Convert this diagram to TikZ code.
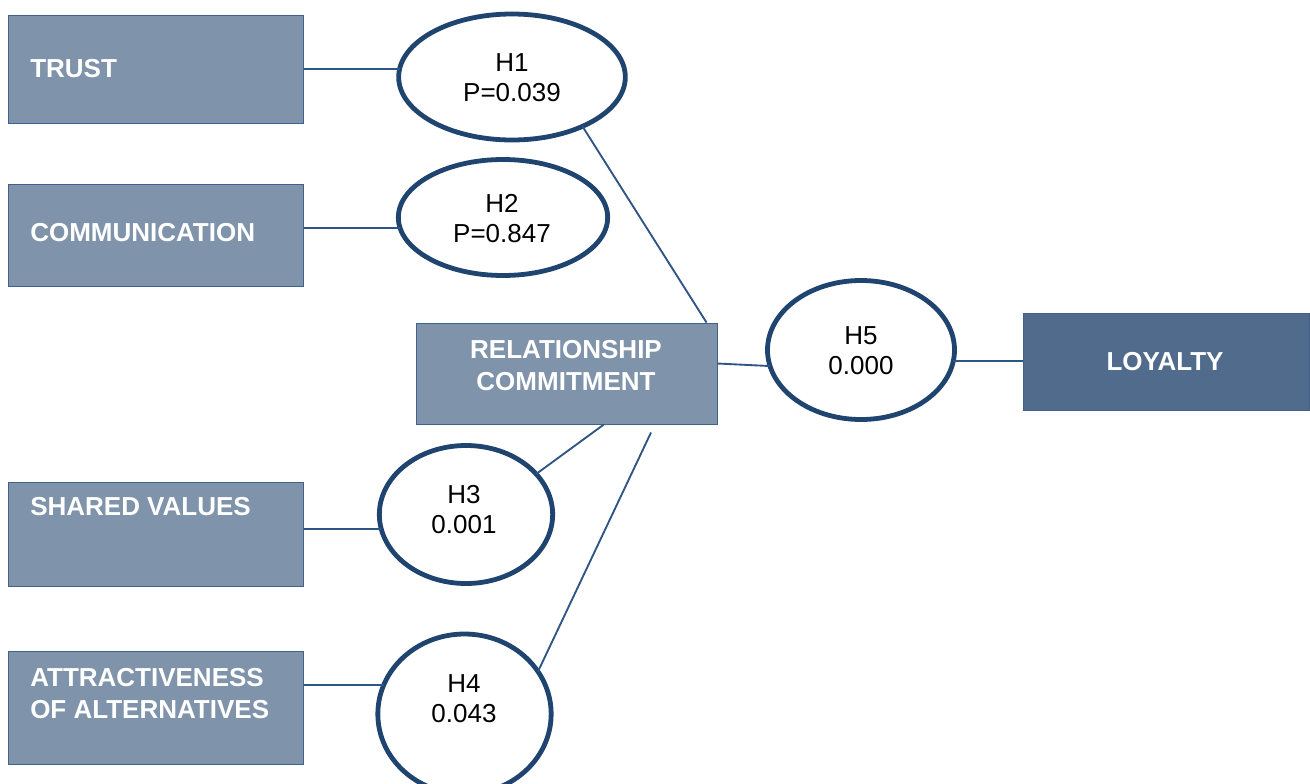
\documentclass[tikz,border=0pt]{standalone}
\usepackage{fontspec}
\setmainfont{Liberation Sans}
\usetikzlibrary{shapes.geometric}
\definecolor{boxfill}{HTML}{7F93AB}
\definecolor{boxdark}{HTML}{506B8B}
\definecolor{boxline}{HTML}{41618A}
\definecolor{ellline}{HTML}{1F4470}
\definecolor{conn}{HTML}{2E5584}
\tikzset{
  box/.style={draw=boxline, line width=0.75pt, fill=boxfill, minimum width=221.25pt, inner sep=0pt},
  boxtext/.style={text=white, font=\bfseries\fontsize{19.5}{24}\selectfont, inner sep=0pt, align=left},
  hyp/.style={ellipse, draw=ellline, line width=3.6pt, fill=white, inner sep=0pt, outer sep=0pt},
  hyptext/.style={font=\fontsize{19.5}{22.5}\selectfont, inner sep=0pt, align=center},
  link/.style={draw=conn, line width=1.4pt}
}
\begin{document}
\begin{tikzpicture}[x=0.75pt,y=-0.75pt]
\useasboundingbox (0,0) rectangle (1310,783);
% boxes
\node[box, minimum height=81pt] (trust) at (155.5,69) {};
\node[box, minimum height=76.5pt] (comm) at (155.5,235) {};
\node[box, minimum height=78pt] (shared) at (155.5,534) {};
\node[box, minimum height=84.75pt] (attr) at (155.5,707.5) {};
\node[box, minimum width=225.75pt, minimum height=75.75pt] (rc) at (566.5,373.5) {};
\node[box, fill=boxdark, minimum width=214.5pt, minimum height=72.75pt] (loy) at (1166,361.5) {};
\node[boxtext, anchor=west] (trustT) at (30,69) {TRUST};
\node[boxtext, anchor=west] (commT) at (30,233) {COMMUNICATION};
\node[boxtext, anchor=west] (sharedT) at (30,507) {SHARED VALUES};
\node[boxtext, anchor=west] (attrT) at (30,694) {ATTRACTIVENESS\\OF ALTERNATIVES};
\node[boxtext, align=center] (rcT) at (566,366) {RELATIONSHIP\\COMMITMENT};
\node[boxtext] (loyT) at (1165,362) {LOYALTY};
% ellipses
\node[hyp, minimum width=170pt, minimum height=94.5pt] (h1) at (512,77) {};
\node[hyp, minimum width=157pt, minimum height=87pt] (h2) at (503,217.5) {};
\node[hyp, minimum width=130pt, minimum height=103.5pt] (h3) at (466,514.5) {};
\node[hyp, minimum width=130pt, minimum height=120pt] (h4) at (464.5,714) {};
\node[hyp, minimum width=140.25pt, minimum height=104.25pt] (h5) at (861,350) {};
\node[hyptext] (h1T) at (512,77.5) {H1\\P=0.039};
\node[hyptext] (h2T) at (502,219) {H2\\P=0.847};
\node[hyptext] (h3T) at (464,510) {H3\\0.001};
\node[hyptext] (h4T) at (464,699) {H4\\0.043};
\node[hyptext] (h5T) at (861,351) {H5\\0.000};
% connectors
\draw[link] (h1.176) -- (h1.176 -| trust.east);
\draw[link] (h2.186) -- (h2.186 -| comm.east);
\draw[link] (h3.190) -- (h3.190 -| shared.east);
\draw[link] (h4.160) -- (h4.160 -| attr.east);
\draw[link] (h1.-35) -- ([xshift=-8.25pt]rc.north east);
\draw[link] (h3.30) -- ([xshift=28pt]rc.south);
\coordinate (h4end) at ([shift={(84.5,8)}]rc.south);
\draw[link] (h4.30) -- (h4end);
\draw[link] ([yshift=7.5pt]rc.east) -- (h5.190);
\draw[link] (h5.-7) -- (h5.-7 -| loy.west);
\end{tikzpicture}
\end{document}
